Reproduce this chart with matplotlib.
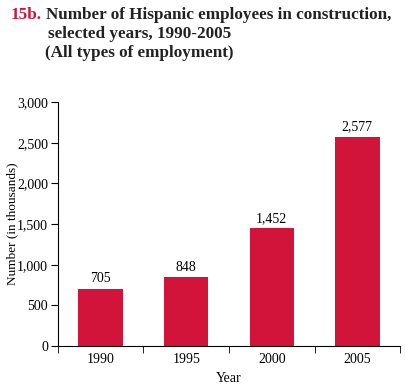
import matplotlib
matplotlib.use("Agg")
import matplotlib.pyplot as plt
import numpy as np

# data
years = ["1990", "1995", "2000", "2005"]
employees = [705, 848, 1452, 2577]
y_ticks = [0, 500, 1000, 1500, 2000, 2500, 3000]

bar_color = "#D2143A"
plt.rcParams["font.family"] = ["Liberation Serif", "DejaVu Serif"]

fig = plt.figure(figsize=(4.05, 3.87), dpi=100)
ax = fig.add_axes([0.143, 0.106, 0.845, 0.630])

x = np.arange(len(years))
bars = ax.bar(x, employees, width=0.52, color=bar_color)
for xi, v in zip(x, employees):
    ax.text(xi, v + 40, f"{v:,}", ha="center", va="bottom", fontsize=10)

ax.set_xlim(-0.5, len(years) - 0.5)
ax.set_ylim(0, 3000)
ax.set_yticks(y_ticks)
ax.set_yticklabels([f"{t:,}" for t in y_ticks], fontsize=10)
ax.set_xticks(x)
ax.set_xticklabels(years, fontsize=10)
ax.set_xticks(np.arange(len(years) + 1) - 0.5, minor=True)
ax.tick_params(axis="x", which="major", length=0, pad=5)
ax.tick_params(axis="x", which="minor", length=5, direction="out")
ax.tick_params(axis="y", length=5, direction="out", pad=2)

for s in ["top", "right"]:
    ax.spines[s].set_visible(False)

ax.set_xlabel("Year", fontsize=10)
ax.set_ylabel("Number (in thousands)", fontsize=9.5)
ax.xaxis.set_label_coords(0.5, -0.105)
ax.yaxis.set_label_coords(-0.117, 0.5)

# title
fig.text(0.025, 0.951, "15b.", color=bar_color, fontsize=12.3, fontweight="bold")
fig.text(0.114, 0.951, "Number of Hispanic employees in construction,",
         color="#222222", fontsize=12.3, fontweight="bold")
fig.text(0.119, 0.902, "selected years, 1990-2005", color="#222222",
         fontsize=12.3, fontweight="bold")
fig.text(0.111, 0.853, "(All types of employment)", color="#222222",
         fontsize=12.3, fontweight="bold")

fig.savefig("out.png", dpi=100)
